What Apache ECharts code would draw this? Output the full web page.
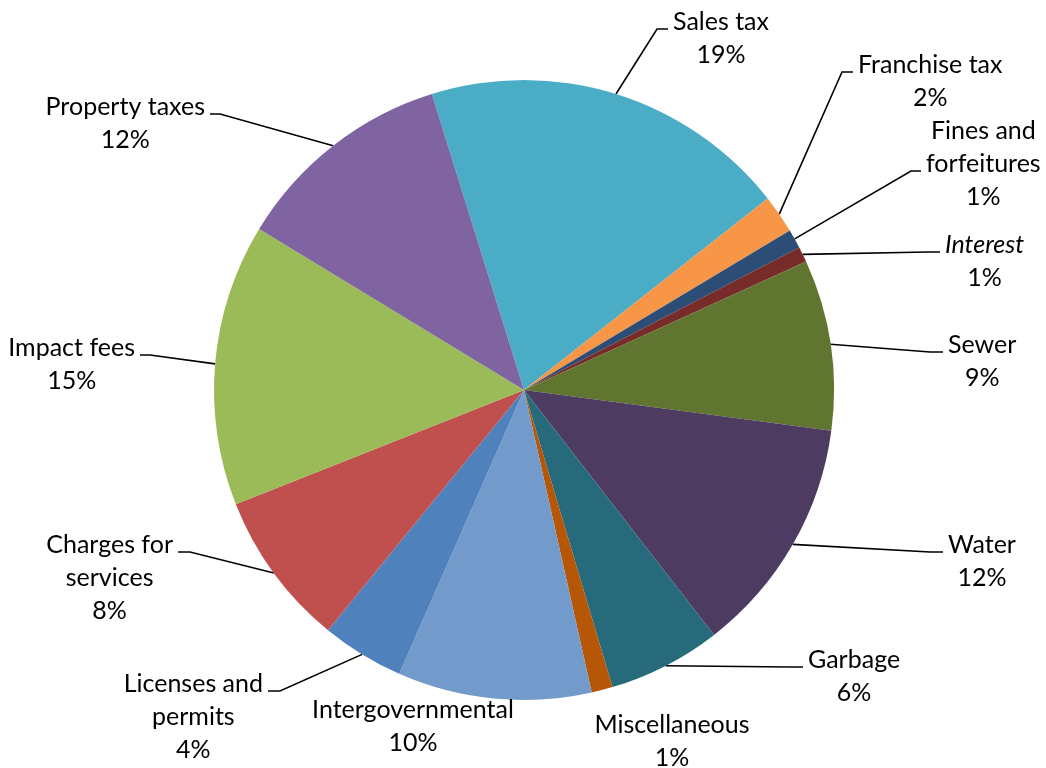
<!DOCTYPE html>
<html>
<head>
<meta charset="utf-8">
<script src="https://cdn.jsdelivr.net/npm/echarts@6/dist/echarts.min.js"></script>
<style>
  html, body { margin: 0; padding: 0; background: #fff; }
  #main { width: 1046px; height: 768px; }
</style>
</head>
<body>
<div id="main"></div>
<script>
// revenue sources, clockwise from the sales tax slice
const categories = ['Sales tax', 'Franchise tax', 'Fines and forfeitures', 'Interest', 'Sewer', 'Water',
    'Garbage', 'Miscellaneous', 'Intergovernmental', 'Licenses and permits', 'Charges for services',
    'Impact fees', 'Property taxes'];
const shares = [19.2, 2.0, 1.0, 0.8, 8.9, 12.4, 5.9, 1.1, 10.1, 4.3, 8.1, 14.7, 11.5];

const palette = ['#4bacc6', '#f79646', '#2c4d75', '#772c2a', '#5f7530', '#4d3b62',
    '#276a7c', '#b65708', '#729aca', '#4f81bd', '#c0504d', '#9bbb59', '#8064a2'];

// how the long names wrap in the labels
const wrapped = {
    'Fines and forfeitures': ['Fines and', 'forfeitures'],
    'Licenses and permits': ['Licenses and', 'permits'],
    'Charges for services': ['Charges for', 'services']
};

// where each data label was dragged to (leader elbow and end), like the original workbook
const labelSpots = {
    'Sales tax':             { elbow: [657, 29],  end: [668, 29] },
    'Franchise tax':         { elbow: [842, 72],  end: [853, 72] },
    'Fines and forfeitures': { elbow: [911, 171], end: [921, 171], row: 1 },
    'Interest':              { elbow: [928, 252], end: [940, 252] },
    'Sewer':                 { elbow: [930, 352], end: [943, 352] },
    'Water':                 { elbow: [930, 552], end: [943, 552] },
    'Garbage':               { elbow: [790, 667], end: [803, 667] },
    'Miscellaneous':         { center: [672, 708] },
    'Intergovernmental':     { center: [413, 693] },
    'Licenses and permits':  { elbow: [280, 691], end: [268, 691] },
    'Charges for services':  { elbow: [190, 552], end: [178, 552] },
    'Impact fees':           { elbow: [150, 355], end: [140, 355] },
    'Property taxes':        { elbow: [220, 114], end: [210, 114] }
};

const FONT = 'Lato';
const LINE_H = 33;

const chart = echarts.init(document.querySelector('#main'));

let option = {
    animation: false,
    color: palette,
    series: [
        {
            type: 'pie',
            center: [524, 390],
            radius: 310,
            startAngle: 107.3,
            clockwise: true,
            percentPrecision: 0,
            avoidLabelOverlap: false,
            itemStyle: { borderWidth: 0 },
            label: {
                show: true,
                position: 'outside',
                color: '#000',
                fontFamily: FONT,
                fontSize: 25,
                lineHeight: LINE_H,
                formatter: (p) => {
                    const tag = p.name === 'Interest' ? 'i' : 'n';
                    const lines = (wrapped[p.name] || [p.name]).map(s => '{' + tag + '|' + s + '}');
                    lines.push('{n|' + p.percent + '%}');
                    return lines.join('\n');
                },
                rich: {
                    n: { align: 'center', fontFamily: FONT, fontSize: 25, lineHeight: LINE_H, color: '#000' },
                    i: { align: 'center', fontFamily: FONT, fontSize: 25, lineHeight: LINE_H, color: '#000', fontStyle: 'italic' }
                }
            },
            labelLine: {
                show: true,
                length: 30,
                length2: 10,
                lineStyle: { color: '#000', width: 1.6 }
            },
            labelLayout: (params) => {
                const spot = labelSpots[categories[params.dataIndex]];
                if (spot.center) {
                    return { x: spot.center[0], y: spot.center[1], align: 'center', verticalAlign: 'top' };
                }
                const right = spot.end[0] > spot.elbow[0];
                const start = params.labelLinePoints ? params.labelLinePoints[0] : spot.elbow;
                return {
                    x: spot.end[0] + (right ? 5 : -5),
                    y: spot.end[1] - 7 - LINE_H / 2 - (spot.row || 0) * LINE_H,
                    align: right ? 'left' : 'right',
                    verticalAlign: 'top',
                    labelLinePoints: [start, spot.elbow, spot.end]
                };
            },
            emphasis: { disabled: true },
            data: categories.map((name, i) => ({
                name: name,
                value: shares[i],
                labelLine: { show: !labelSpots[name].center }
            }))
        }
    ]
};
chart.setOption(option);
</script>
</body>
</html>
